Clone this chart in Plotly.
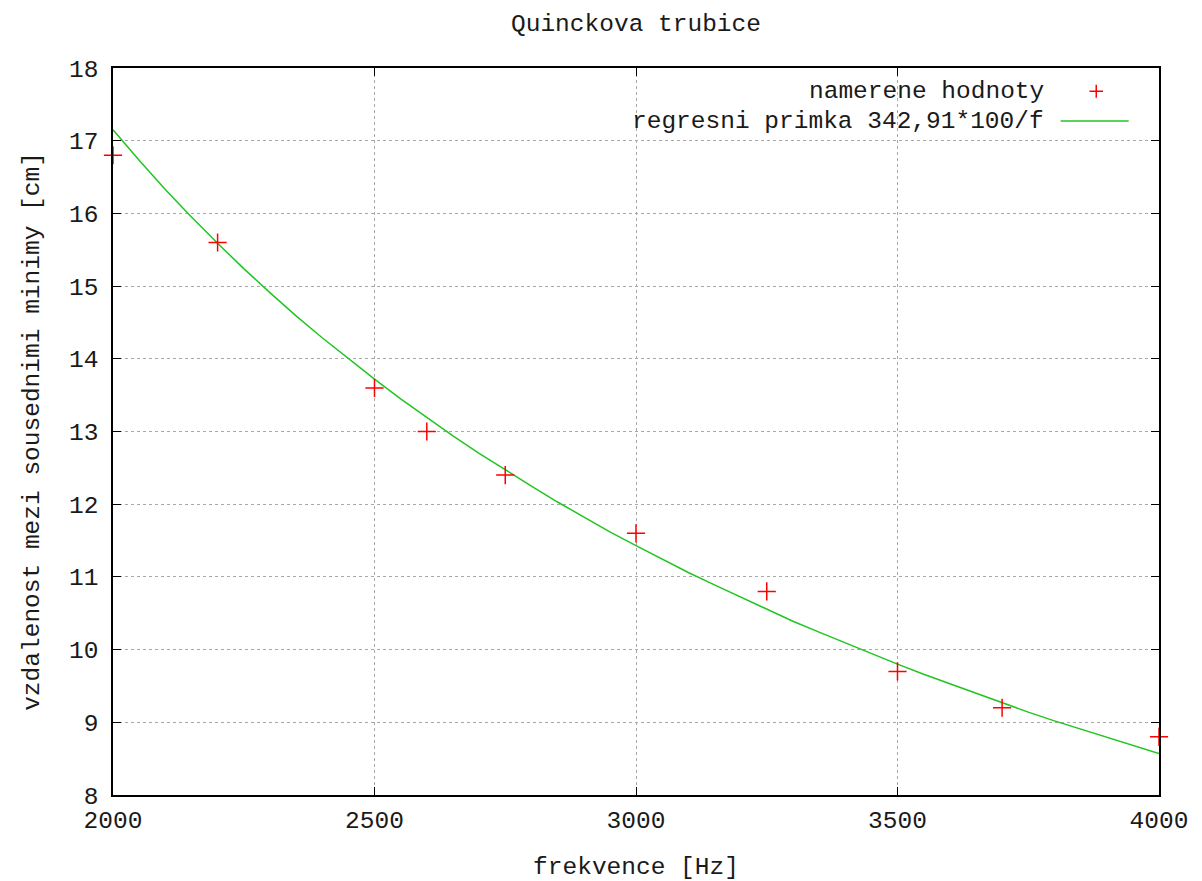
import plotly.graph_objects as go

# measured points
freq_meas = [2000, 2200, 2500, 2600, 2750, 3000, 3250, 3500, 3700, 4000]
dist_meas = [16.8, 15.6, 13.6, 13.0, 12.4, 11.6, 10.8, 9.7, 9.2, 8.8]

# regression curve 342,91*100/f
freq_fit = [2000, 2050, 2100, 2150, 2200, 2250, 2300, 2350, 2400, 2450, 2500,
            2550, 2600, 2650, 2700, 2750, 2800, 2850, 2900, 2950, 3000,
            3050, 3100, 3150, 3200, 3250, 3300, 3350, 3400, 3450, 3500,
            3550, 3600, 3650, 3700, 3750, 3800, 3850, 3900, 3950, 4000]
dist_fit = [17.15, 16.73, 16.33, 15.95, 15.59, 15.24, 14.91, 14.59, 14.29, 14.00, 13.72,
            13.45, 13.19, 12.94, 12.70, 12.47, 12.25, 12.03, 11.82, 11.62, 11.43,
            11.24, 11.06, 10.89, 10.72, 10.55, 10.39, 10.24, 10.09, 9.94, 9.80,
            9.66, 9.53, 9.39, 9.27, 9.14, 9.02, 8.91, 8.79, 8.68, 8.57]

x_ticks = [2000, 2500, 3000, 3500, 4000]
y_ticks = [8, 9, 10, 11, 12, 13, 14, 15, 16, 17, 18]

title_text = "Quinckova trubice"
x_label = "frekvence [Hz]"
y_label = "vzdalenost mezi sousednimi minimy [cm]"
legend_meas = "namerene hodnoty"
legend_fit = "regresni primka 342,91*100/f"

FONT = "Liberation Mono"
FS = 24.5
TXT = "#1a1a1a"
RED = "#ff0000"
GREEN = "#22c422"

fig = go.Figure()
fig.add_trace(go.Scatter(
    x=freq_fit, y=dist_fit, mode="lines", name=legend_fit,
    line=dict(color=GREEN, width=1.5), showlegend=False, cliponaxis=True))
fig.add_trace(go.Scatter(
    x=freq_meas, y=dist_meas, mode="markers", name=legend_meas,
    marker=dict(symbol="cross-thin", size=13, line=dict(color=RED, width=1.5)),
    showlegend=False, cliponaxis=False))

axis_common = dict(
    showline=True, linecolor="black", linewidth=1.5, mirror="allticks",
    ticks="inside", ticklen=8, tickcolor="black", tickwidth=1,
    showgrid=True, gridcolor="#a8a8a8", griddash="dot", gridwidth=1,
    zeroline=False, automargin=False, tickfont=dict(family=FONT, size=FS, color=TXT),
)

fig.update_xaxes(range=[2000, 4000], tickvals=x_ticks, ticktext=[str(v) for v in x_ticks],
                 title=dict(text=x_label, font=dict(family=FONT, size=FS, color=TXT), standoff=27),
                 ticklabelstandoff=2, **axis_common)
fig.update_yaxes(range=[8, 18], tickvals=y_ticks, ticktext=[str(v) for v in y_ticks],
                 title=dict(text=y_label, font=dict(family=FONT, size=FS, color=TXT), standoff=22),
                 ticklabelstandoff=8, **axis_common)

# legend drawn gnuplot-style (text right-aligned, key on the right)
fig.add_annotation(xref="paper", yref="paper", x=0.8915, y=0.968, xanchor="right", yanchor="middle",
                   text=legend_meas, showarrow=False, font=dict(family=FONT, size=FS, color=TXT))
fig.add_annotation(xref="paper", yref="paper", x=0.8915, y=0.927, xanchor="right", yanchor="middle",
                   text=legend_fit, showarrow=False, font=dict(family=FONT, size=FS, color=TXT))
# key for measured points (plus sign)
fig.add_shape(type="line", xref="paper", yref="paper", x0=0.9335, x1=0.9465, y0=0.968, y1=0.968,
              line=dict(color=RED, width=1.5))
fig.add_shape(type="line", xref="paper", yref="paper", x0=0.940, x1=0.940, y0=0.959, y1=0.977,
              line=dict(color=RED, width=1.5))
# key for regression line
fig.add_shape(type="line", xref="paper", yref="paper", x0=0.906, x1=0.971, y0=0.927, y1=0.927,
              line=dict(color=GREEN, width=1.5))

fig.update_layout(
    width=1202, height=881,
    margin=dict(l=113, r=43, t=68, b=86),
    paper_bgcolor="white", plot_bgcolor="white",
    title=dict(text=title_text, x=0.5, xref="paper", y=0.975, yref="container",
               xanchor="center", yanchor="middle",
               font=dict(family=FONT, size=FS, color=TXT)),
    showlegend=False,
)

fig.write_html("out.html")
